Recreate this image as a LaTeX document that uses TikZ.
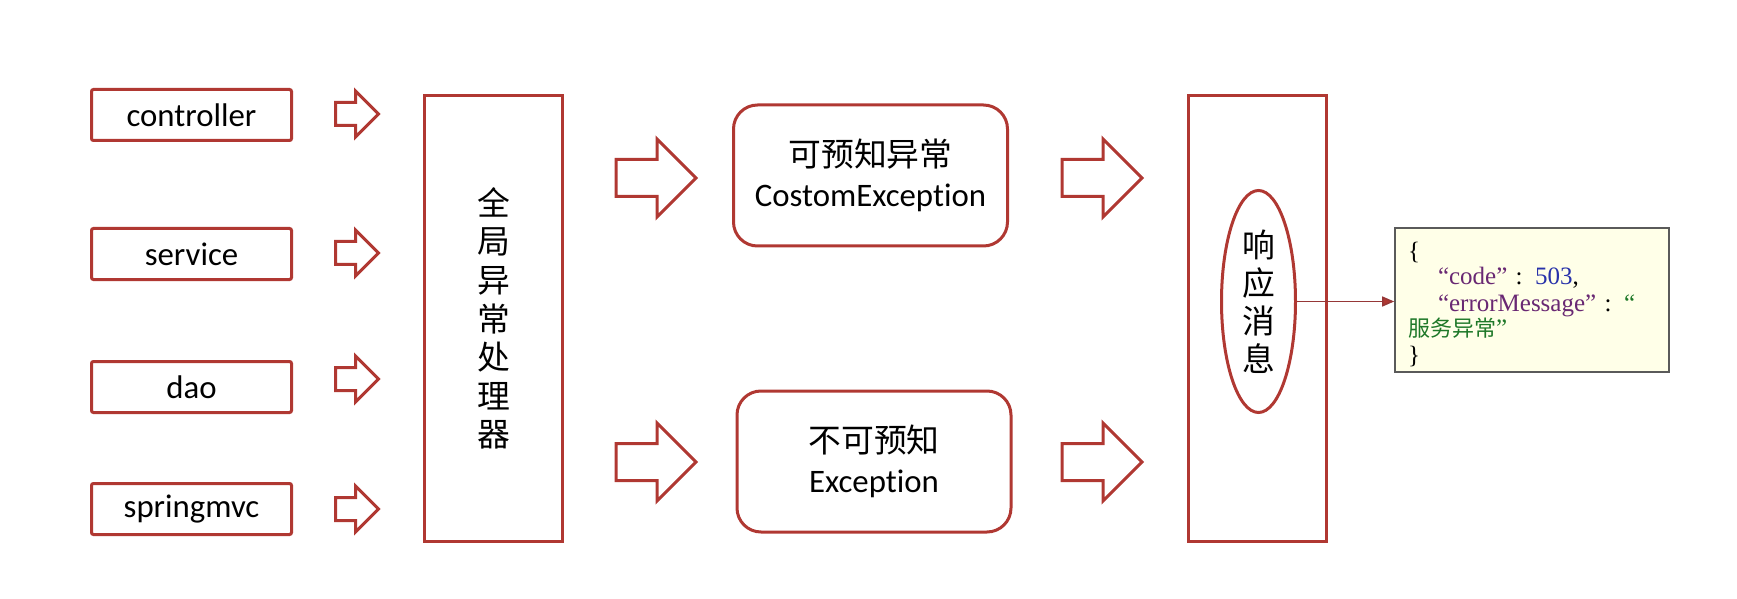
\documentclass[tikz,border=0pt]{standalone}
\usepackage{fontspec}
\setmainfont{Carlito}[Ligatures=NoCommon]
\newfontfamily\cjk{Noto Sans CJK SC}
\newfontfamily\jsonfont{Liberation Serif}
\usetikzlibrary{arrows.meta,shapes.geometric,shapes.arrows}

\definecolor{brick}{RGB}{176,56,50}
\definecolor{jsonbg}{RGB}{255,255,232}
\definecolor{jsonframe}{RGB}{90,90,90}
\definecolor{keypurple}{RGB}{105,40,115}
\definecolor{numblue}{RGB}{40,50,170}
\definecolor{strgreen}{RGB}{30,120,40}
\definecolor{linkred}{RGB}{150,55,55}

\begin{document}
\begin{tikzpicture}[x=0.5pt,y=-0.5pt,
    layerbox/.style={draw=brick,line width=1.5pt,rounded corners=1pt,
        minimum width=100pt,minimum height=25.5pt,
        font=\fontsize{16.4}{19}\selectfont},
    tallbox/.style={draw=brick,line width=1.5pt,
        minimum width=69pt,minimum height=223pt},
    kindbox/.style={draw=brick,line width=1.5pt,rounded corners=12pt,
        minimum width=137pt,minimum height=70.5pt,align=center,
        font=\fontsize{16.4}{20}\selectfont},
    smallarrow/.style={single arrow,draw=brick,line width=1.5pt,
        minimum height=21.5pt,minimum width=21.5pt,inner sep=5pt,
        single arrow head extend=5.75pt,anchor=tail},
    bigarrow/.style={single arrow,draw=brick,line width=1.5pt,
        minimum height=40pt,minimum width=37.5pt,inner sep=8.5pt,
        single arrow head extend=10.25pt,anchor=tail},
    jsonbox/.style={draw=jsonframe,fill=jsonbg,line width=0.8pt,
        text width=124pt,inner xsep=6.5pt,inner ysep=0pt,
        text height=15.5pt,text depth=56.5pt,
        align=left,font=\fontsize{12.5}{13}\jsonfont},
    linkline/.style={draw=linkred,line width=0.7pt,
        -{Triangle[length=6pt,width=5pt,fill=brick]}}
]
    \useasboundingbox (0,0) rectangle (1737,599);

    % layers on the left
    \node[layerbox] (controller) at (191.5,115) {controller};
    \node[layerbox] (service)    at (191.5,254) {service};
    \node[layerbox] (dao)        at (191.5,387) {dao};
    \node[layerbox] (springmvc)  at (191.5,509) {springmvc};

    \node[smallarrow] (ctrlarrow)   at (334,114) {};
    \node[smallarrow] (servarrow)   at (334,253) {};
    \node[smallarrow] (daoarrow)    at (334,379) {};
    \node[smallarrow] (springarrow) at (334,509) {};

    % global handler
    \node[tallbox,align=center,font=\fontsize{16.4}{19.3}\cjk] (handler) at (493.5,318.5)
        {全\\局\\异\\常\\处\\理\\器};

    \node[bigarrow] (toknown)   at (614.5,178) {};
    \node[bigarrow] (tounknown) at (614.5,462) {};

    \node[kindbox] (known)   at (870.5,175.5) {{\cjk 可预知异常}\\CostomException};
    \node[kindbox] (unknown) at (874,461.5)   {{\cjk 不可预知}\\Exception};

    \node[bigarrow] (fromknown)   at (1060.5,178) {};
    \node[bigarrow] (fromunknown) at (1060.5,462) {};

    % response
    \node[tallbox] (response) at (1257.5,318.5) {};
    \node[ellipse,draw=brick,line width=1.5pt,minimum width=37pt,minimum height=111pt,
        inner sep=0pt,align=center,font=\fontsize{16.4}{19}\cjk] (reply) at (1258.5,301.5)
        {响\\应\\消\\息};

    \node[jsonbox] (json) at (1532,300) {%
        \{\\
        \hspace*{15pt}\textcolor{keypurple}{“code”} : \textcolor{numblue}{503},\\
        \hspace*{15pt}\textcolor{keypurple}{“errorMessage”} : \textcolor{strgreen}{“}\\
        \textcolor{strgreen}{{\fontsize{11}{13}\cjk 服务异常}”}\\
        \}};

    \draw[linkline] (reply.east) -- (reply.east -| json.west);
\end{tikzpicture}
\end{document}
